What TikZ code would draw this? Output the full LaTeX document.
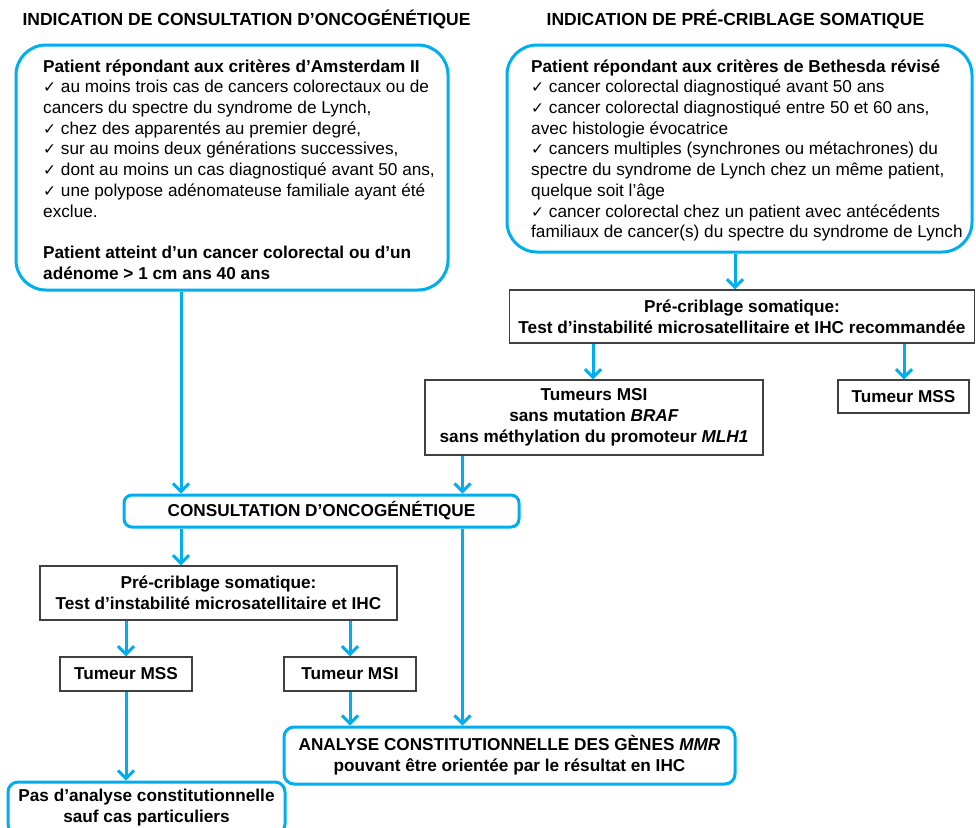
\documentclass[tikz,border=0pt]{standalone}
\usepackage{fontspec}
\setmainfont{Liberation Sans}
\newfontfamily\dejavu{DejaVu Sans}
\usetikzlibrary{arrows.meta}
\definecolor{mycyan}{HTML}{00AEEF}
\definecolor{boxgray}{HTML}{404040}
\newcommand{\ck}{{\dejavu\fontsize{15.5}{15}\selectfont ✓}}
\begin{document}
\begin{tikzpicture}[x=1pt,y=-1pt, font=\fontsize{17.2}{20.7}\selectfont,
  rbox/.style={draw=mycyan, line width=3pt, rounded corners=#1, inner sep=0pt, align=center, font=\fontsize{17.2}{21}\selectfont\bfseries},
  rbox/.default=10pt,
  pbox/.style={draw=boxgray, line width=1.3pt, inner sep=0pt, align=center, font=\fontsize{17.2}{21}\selectfont\bfseries},
  title/.style={anchor=base, inner sep=0pt, font=\fontsize{17.5}{20}\selectfont\bfseries},
  boxtext/.style={anchor=north west, align=left, inner sep=0pt},
  arr/.style={draw=mycyan, line width=3pt, -{Straight Barb[length=8pt,width=16pt]}}]
\useasboundingbox (0,0) rectangle (976,827);

% titles
\node[title] (t1) at (246.5,25.5) {INDICATION DE CONSULTATION D’ONCOGÉNÉTIQUE};
\node[title] (t2) at (735.5,25.5) {INDICATION DE PRÉ-CRIBLAGE SOMATIQUE};

% big rounded boxes
\node[rbox=30pt, minimum width=432pt, minimum height=245pt] (amst) at (232,167.5) {};
\node[boxtext] (amsttxt) at (43,59.3) {\textbf{Patient répondant aux critères d’Amsterdam II}\\
\ck\ au moins trois cas de cancers colorectaux ou de\\
cancers du spectre du syndrome de Lynch,\\
\ck\ chez des apparentés au premier degré,\\
\ck\ sur au moins deux générations successives,\\
\ck\ dont au moins un cas diagnostiqué avant 50 ans,\\
\ck\ une polypose adénomateuse familiale ayant été\\
exclue.\\[20.7pt]
\textbf{Patient atteint d’un cancer colorectal ou d’un}\\
\textbf{adénome > 1 cm ans 40 ans}};

\node[rbox=30pt, minimum width=465pt, minimum height=207pt] (beth) at (739.5,148.5) {};
\node[boxtext] (bethtxt) at (531,59.3) {\textbf{Patient répondant aux critères de Bethesda révisé}\\
\ck\ cancer colorectal diagnostiqué avant 50 ans\\
\ck\ cancer colorectal diagnostiqué entre 50 et 60 ans,\\
avec histologie évocatrice\\
\ck\ cancers multiples (synchrones ou métachrones) du\\
spectre du syndrome de Lynch chez un même patient,\\
quelque soit l’âge\\
\ck\ cancer colorectal chez un patient avec antécédents\\
familiaux de cancer(s) du spectre du syndrome de Lynch};

% plain boxes
\node[pbox, minimum width=465pt, minimum height=53pt] (pc1) at (742,316.5) {Pré-criblage somatique:\\Test d’instabilité microsatellitaire et IHC recommandée};
\node[pbox, minimum width=338pt, minimum height=75pt] (msi1) at (594,417.5) {Tumeurs MSI\\sans mutation \textit{BRAF}\\sans méthylation du promoteur \textit{MLH1}};
\node[pbox, minimum width=131pt, minimum height=33pt] (mss1) at (903.5,396.5) {Tumeur MSS};

\node[rbox=8pt, minimum width=395pt, minimum height=32pt] (cons) at (321.5,511) {CONSULTATION D’ONCOGÉNÉTIQUE};

\node[pbox, minimum width=357pt, minimum height=54pt] (pc2) at (218.5,593) {Pré-criblage somatique:\\Test d’instabilité microsatellitaire et IHC};
\node[pbox, minimum width=132pt, minimum height=34pt] (mss2) at (126,674) {Tumeur MSS};
\node[pbox, minimum width=132pt, minimum height=34pt] (msi2) at (350,674) {Tumeur MSI};

\node[rbox=10pt, minimum width=451pt, minimum height=57pt] (ana) at (509.5,755.5) {ANALYSE CONSTITUTIONNELLE DES GÈNES \textit{MMR}\\pouvant être orientée par le résultat en IHC};
\node[rbox=10pt, minimum width=277pt, minimum height=52pt] (pas) at (146.5,808) {Pas d’analyse constitutionnelle\\sauf cas particuliers};

% helper x positions
\coordinate (xa) at (181,0);
\coordinate (xb) at (735,0);
\coordinate (xc) at (593,0);
\coordinate (xd) at (904,0);
\coordinate (xe) at (462.5,0);

% connectors
\draw[arr] (amst.south -| xa) -- (cons.north -| xa);
\draw[arr] (beth.south -| xb) -- (pc1.north -| xb);
\draw[arr] (pc1.south -| xc) -- (msi1.north -| xc);
\draw[arr] (pc1.south -| xd) -- (mss1.north -| xd);
\draw[arr] (msi1.south -| xe) -- (cons.north -| xe);
\draw[arr] (cons.south -| xa) -- (pc2.north -| xa);
\draw[arr] (cons.south -| xe) -- (ana.north -| xe);
\draw[arr] (pc2.south -| mss2.north) -- (mss2.north);
\draw[arr] (pc2.south -| msi2.north) -- (msi2.north);
\draw[arr] (mss2.south) -- (pas.north -| mss2.south);
\draw[arr] (msi2.south) -- (ana.north -| msi2.south);
\end{tikzpicture}
\end{document}
